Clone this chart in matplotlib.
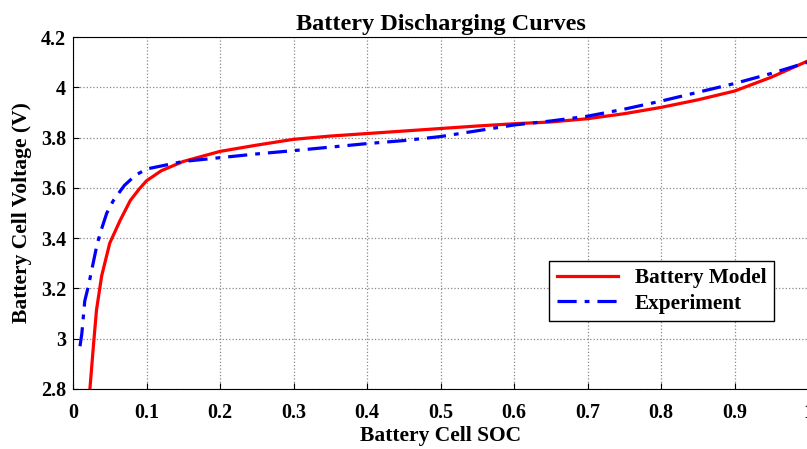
import numpy as np
import matplotlib
matplotlib.use('Agg')
import matplotlib.pyplot as plt

plt.rcParams['font.family'] = ['Liberation Serif', 'DejaVu Serif']
plt.rcParams['font.weight'] = 'bold'

# Battery model curve (SOC, voltage)
soc_model = [0.023, 0.028, 0.032, 0.039, 0.05, 0.064, 0.078, 0.09, 0.1, 0.12, 0.15, 0.2, 0.25, 0.3,
             0.35, 0.4, 0.45, 0.5, 0.55, 0.6, 0.65, 0.7, 0.75, 0.8, 0.85, 0.9, 0.95, 1.0]
v_model = [2.8, 2.98, 3.115, 3.25, 3.38, 3.47, 3.55, 3.595, 3.628, 3.668, 3.705, 3.745, 3.77, 3.793,
           3.806, 3.816, 3.826, 3.836, 3.846, 3.855, 3.862, 3.875, 3.895, 3.92, 3.95, 3.985, 4.04, 4.105]

# Experimental curve
soc_exp = [0.0095, 0.012, 0.016, 0.021, 0.032, 0.037, 0.046, 0.055, 0.07, 0.085, 0.1, 0.15, 0.2,
           0.25, 0.3, 0.35, 0.4, 0.45, 0.5, 0.55, 0.6, 0.65, 0.7, 0.75, 0.8, 0.85, 0.9, 0.95, 1.0]
v_exp = [2.97, 3.02, 3.15, 3.21, 3.365, 3.42, 3.5, 3.55, 3.61, 3.65, 3.675, 3.705, 3.72,
         3.735, 3.748, 3.762, 3.776, 3.788, 3.804, 3.827, 3.85, 3.866, 3.885, 3.913, 3.945, 3.98, 4.015, 4.055, 4.1]

fig = plt.figure(figsize=(8.07, 4.49), dpi=100)
ax = fig.add_axes([73/807, 1 - 389/449, 735/807, 352/449])

ax.plot(soc_model, v_model, color='#ff0000', lw=2.3, label='Battery Model')
ax.plot(soc_exp, v_exp, color='#0000ff', lw=2.3, ls='-.', dashes=(6, 2.5, 1.5, 2.5), label='Experiment')

ax.set_xlim(0, 1)
ax.set_ylim(2.8, 4.2)
ax.set_xticks(np.arange(0, 1.01, 0.1))
ax.set_xticklabels(['0', '0.1', '0.2', '0.3', '0.4', '0.5', '0.6', '0.7', '0.8', '0.9', '1'])
ax.set_yticks(np.arange(2.8, 4.21, 0.2))
ax.set_yticklabels(['2.8', '3', '3.2', '3.4', '3.6', '3.8', '4', '4.2'])
ax.tick_params(direction='in', labelsize=14.5, length=4)
ax.tick_params(axis='x', pad=10)
ax.tick_params(axis='y', pad=5)
ax.grid(True, ls=':', color='#888888', lw=0.9)

ax.set_title('Battery Discharging Curves', fontsize=17.5, fontweight='bold', pad=5)
ax.set_xlabel('Battery Cell SOC', fontsize=15.5, fontweight='bold', labelpad=2)
ax.set_ylabel('Battery Cell Voltage (V)', fontsize=15.5, fontweight='bold', labelpad=6)

leg = ax.legend(loc='lower right', bbox_to_anchor=(0.954, 0.193), fontsize=15.3, fancybox=False,
                edgecolor='black', framealpha=1, handlelength=2.9, borderpad=0.35,
                labelspacing=0.25, borderaxespad=0)
leg.get_frame().set_linewidth(1.0)

fig.savefig('out.png', dpi=100)
